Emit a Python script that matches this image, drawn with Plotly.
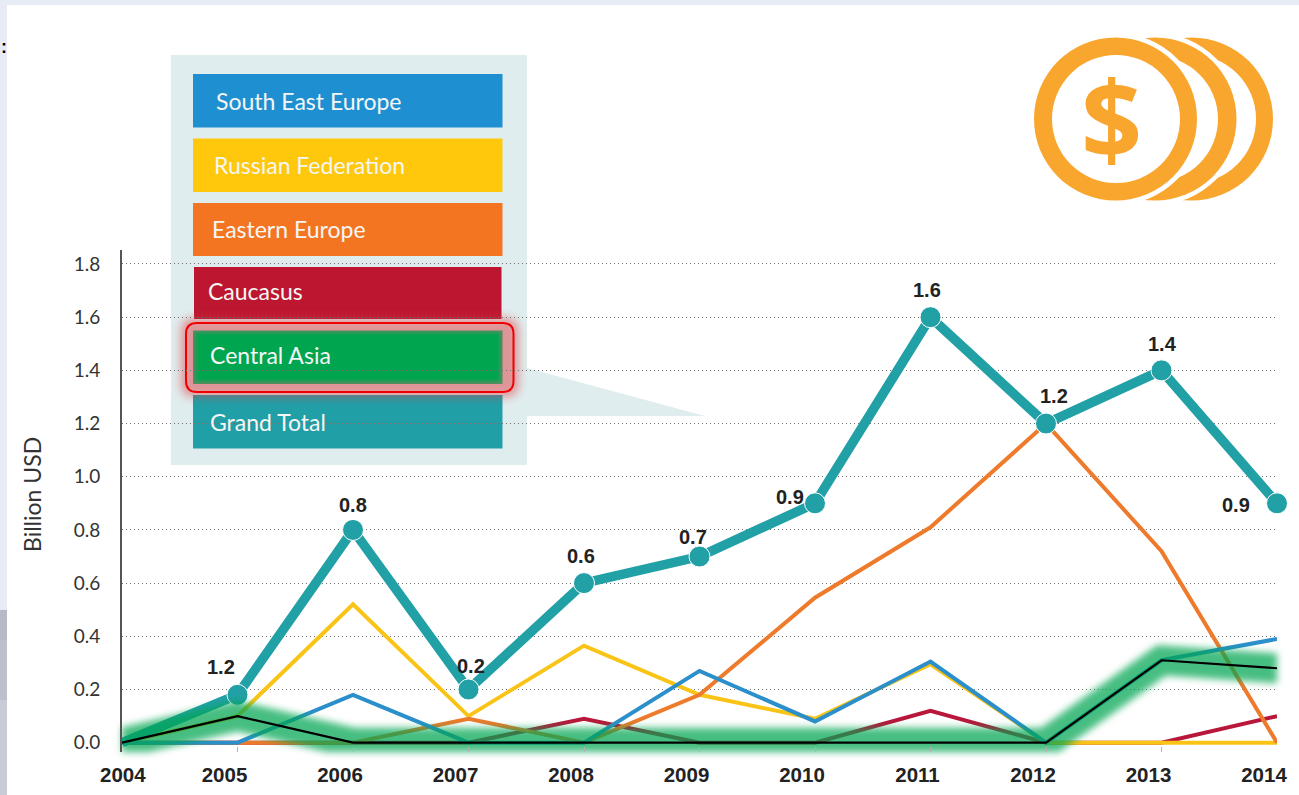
import plotly.graph_objects as go

W, H = 1299, 795
PLOT_L, PLOT_R, PLOT_T, PLOT_B = 122, 1277, 250, 752

years = [2004, 2005, 2006, 2007, 2008, 2009, 2010, 2011, 2012, 2013, 2014]
south_east_europe = [0, 0, 0.18, 0, 0, 0.27, 0.08, 0.305, 0, 0.31, 0.39]
russian_federation = [0, 0.1, 0.52, 0.1, 0.365, 0.18, 0.09, 0.295, 0, 0, 0]
eastern_europe = [0, 0, 0, 0.09, 0, 0.18, 0.545, 0.81, 1.2, 0.72, 0]
caucasus = [0, 0, 0, 0, 0.09, 0, 0, 0.12, 0, 0, 0.1]
central_asia = [0, 0.1, 0, 0, 0, 0, 0, 0, 0, 0.31, 0.28]
grand_total = [0, 0.18, 0.8, 0.2, 0.6, 0.7, 0.9, 1.6, 1.2, 1.4, 0.9]

# Printed figures above the total line, as they appear in the publication
total_labels = ["", "1.2", "0.8", "0.2", "0.6", "0.7", "0.9", "1.6", "1.2", "1.4", "0.9"]
y_ticks = [0, 0.2, 0.4, 0.6, 0.8, 1.0, 1.2, 1.4, 1.6, 1.8]
y_tick_labels = ["0.0", "0.2", "0.4", "0.6", "0.8", "1.0", "1.2", "1.4", "1.6", "1.8"]
legend_names = ["South East Europe", "Russian Federation", "Eastern Europe",
                "Caucasus", "Central Asia", "Grand Total"]

C_BLUE, C_YELLOW, C_ORANGE = "#2b8fcb", "#f9c416", "#ee7a2b"
C_RED, C_TEAL, C_COIN = "#b8163a", "#21a0a6", "#f9a62e"


def px(x):
    return (x - PLOT_L) / (PLOT_R - PLOT_L)


def py(y):
    return (PLOT_B - y) / (PLOT_B - PLOT_T)


def rect(x0, y0, x1, y1, fill):
    return dict(type="rect", xref="paper", yref="paper", x0=px(x0), x1=px(x1),
                y0=py(y1), y1=py(y0), fillcolor=fill, line=dict(width=0), layer="between")


def disc(cx, cy, r, fill):
    return dict(type="circle", xref="paper", yref="paper", x0=px(cx - r), x1=px(cx + r),
                y0=py(cy + r), y1=py(cy - r), fillcolor=fill, line=dict(width=0), layer="between")


def rounded(x0, y0, x1, y1, r, fill="rgba(0,0,0,0)", line=None):
    def p(x, y):
        return f"{px(x):.5f},{py(y):.5f}"
    path = (f"M{p(x0 + r, y0)} L{p(x1 - r, y0)} Q{p(x1, y0)} {p(x1, y0 + r)} "
            f"L{p(x1, y1 - r)} Q{p(x1, y1)} {p(x1 - r, y1)} "
            f"L{p(x0 + r, y1)} Q{p(x0, y1)} {p(x0, y1 - r)} "
            f"L{p(x0, y0 + r)} Q{p(x0, y0)} {p(x0 + r, y0)} Z")
    return dict(type="path", xref="paper", yref="paper", path=path, fillcolor=fill,
                line=line or dict(width=0), layer="between")


fig = go.Figure()

for name, vals, col, w in [("Caucasus", caucasus, C_RED, 4),
                           ("Russian Federation", russian_federation, C_YELLOW, 4),
                           ("Eastern Europe", eastern_europe, C_ORANGE, 4),
                           ("South East Europe", south_east_europe, C_BLUE, 4)]:
    fig.add_trace(go.Scatter(x=years, y=vals, mode="lines", name=name, cliponaxis=False,
                             line=dict(color=col, width=w)))

fig.add_trace(go.Scatter(x=years, y=grand_total, mode="lines+markers", name="Grand Total",
                         cliponaxis=False, line=dict(color=C_TEAL, width=9.5),
                         marker=dict(color=C_TEAL, size=[0] + [21] * 10, opacity=1)))

# Green halo under the highlighted series; the blur is applied after plotting
GLOW_TRACE = len(fig.data)
fig.add_trace(go.Scatter(x=years, y=central_asia, mode="lines", showlegend=False,
                         hoverinfo="skip", cliponaxis=False,
                         line=dict(color="rgba(0,165,80,0.72)", width=30)))
fig.add_trace(go.Scatter(x=years, y=central_asia, mode="lines", name="Central Asia",
                         cliponaxis=False, line=dict(color="#000000", width=2.2)))

shapes = [
    # Window edges around the white page
    rect(0, 0, W, 5, "#e6ebf5"),
    rect(0, 0, 7, 610, "#e6ebf5"),
    rect(0, 610, 7, 640, "#b6bac6"),
    rect(0, 640, 7, 700, "#bcc0cc"),
    rect(0, 700, 7, 795, "#c8ccd6"),
    # Panel and pointer behind the colour key
    rect(171, 55, 527, 465, "#e0edee"),
    dict(type="path", xref="paper", yref="paper", layer="between", fillcolor="#e0edee",
         line=dict(width=0),
         path=f"M{px(527)},{py(368)} L{px(705)},{py(416)} L{px(527)},{py(416)} Z"),
    rect(193, 74, 502.5, 127.5, "#1e90d2"),
    rect(193, 138.5, 502.5, 192, "#ffc80d"),
    rect(193, 203, 502.5, 256, "#f47521"),
    rect(194, 267, 501.5, 319, "#bc1631"),
    rect(193, 395, 502.5, 448.5, "#209fa7"),
]
# Pink glow around the highlighted key entry
PINK_SHAPE = len(shapes)
shapes.append(rounded(181, 318, 518.5, 397, 13, fill="rgba(222,60,65,0.5)"))
shapes.append(rect(193, 330.5, 502.5, 384, "#4f8f5e"))
GREEN_SHAPE = len(shapes)
shapes.append(rect(196, 333, 499.5, 381, "#00a550"))
shapes.append(rounded(186, 323, 513.5, 392, 11, line=dict(color="#f00000", width=2)))

# Stack of coins, back to front; each white disc cuts the gap around the next coin
for cx, r_in, gap_cx in [(1191.5, 64.5, 1155), (1155, 63, 1116)]:
    shapes += [disc(cx, 119, 81.5, C_COIN), disc(cx, 119, r_in, "#ffffff"),
               disc(gap_cx, 119, 86, "#ffffff")]
shapes += [disc(1115.5, 119, 81.5, C_COIN), disc(1116, 119, 64, "#ffffff")]

annotations = []


def page_text(x, y, text, size, color, family="Lato", anchor="left", angle=0, weight=None):
    font = dict(family=family, size=size, color=color)
    if weight:
        font["weight"] = weight
    annotations.append(dict(xref="paper", yref="paper", x=px(x), y=py(y), text=text, showarrow=False,
                            xanchor=anchor, yanchor="middle", textangle=angle, font=font))


for name, (lx, ly) in zip(legend_names, [(213.5, 101), (212, 165), (210, 229),
                                         (206, 291), (208, 355), (208, 422)]):
    page_text(lx, ly, name, 23, "#f4f6f4")

page_text(32, 495, "Billion USD", 23, "#333333", anchor="center", angle=-90)
page_text(1111, 117, "$", 107, C_COIN, family="Open Sans", anchor="center", weight=700)
page_text(-1, 47, "<b>:</b>", 18, "#000000", family="Liberation Sans")
page_text(123, 774, "<b>2004</b>", 20.5, "#222222", family="Liberation Sans", anchor="center")

# Offsets of each printed figure from its point on the total line
label_offsets = [(0, 0), (-17, 28), (0, 25), (2, 24), (-3, 27), (-7, 20), (-25, 6),
                 (-4, 27), (8, 28), (1, 26), (-41, -2)]
for yr, val, lab, (dx, dy) in zip(years, grand_total, total_labels, label_offsets):
    if lab:
        annotations.append(dict(x=yr, y=val, xref="x", yref="y", text=f"<b>{lab}</b>",
                                showarrow=False, xshift=dx, yshift=dy,
                                font=dict(family="Liberation Sans", size=20, color="#222222")))

fig.update_layout(
    width=W, height=H, autosize=False, showlegend=False,
    margin=dict(l=PLOT_L, r=W - PLOT_R, t=PLOT_T, b=H - PLOT_B, pad=0, autoexpand=False),
    paper_bgcolor="#ffffff", plot_bgcolor="rgba(0,0,0,0)",
    shapes=shapes, annotations=annotations,
    xaxis=dict(range=[2004, 2014], tickmode="array", tickvals=years[1:],
               ticktext=[f"<b>{y}</b>" for y in years[1:]], ticks="inside", ticklen=5, tickwidth=1,
               tickcolor="#b0b0b0", showgrid=False, zeroline=False, showline=False,
               ticklabelshift=-13, ticklabelstandoff=8, automargin=False,
               tickfont=dict(family="Liberation Sans", size=20.5, color="#222222")),
    yaxis=dict(range=[-0.035, 1.8526], tickmode="array", tickvals=y_ticks, ticktext=y_tick_labels,
               ticks="", showline=True, linecolor="#555555", linewidth=2, zeroline=False,
               showgrid=True, gridcolor="#707070", griddash="1px,3px", gridwidth=1,
               ticklabelstandoff=16, automargin=False,
               tickfont=dict(family="Lato", size=19, color="#333333")),
)

# Soft edges on the highlights; the SVG filter gets a wide region so the halo is not cut off
blur_script = f"""
var gd = document.getElementById('{{plot_id}}');
var glow = gd.querySelectorAll('.scatterlayer .trace')[{GLOW_TRACE}];
var svg = glow.ownerSVGElement, ns = 'http://www.w3.org/2000/svg';
var filt = document.createElementNS(ns, 'filter');
filt.setAttribute('id', 'halo-blur');
filt.setAttribute('filterUnits', 'userSpaceOnUse');
filt.setAttribute('x', '-200'); filt.setAttribute('y', '-200');
filt.setAttribute('width', '1800'); filt.setAttribute('height', '1300');
var fe = document.createElementNS(ns, 'feGaussianBlur');
fe.setAttribute('stdDeviation', '3.5');
filt.appendChild(fe);
var defs = document.createElementNS(ns, 'defs');
defs.appendChild(filt);
svg.appendChild(defs);
glow.querySelectorAll('path').forEach(function (p) {{ p.style.strokeLinecap = 'round'; }});
glow.setAttribute('filter', 'url(#halo-blur)');
var pink = gd.querySelector('.shapelayer path[data-index="{PINK_SHAPE}"]');
if (pink) pink.style.filter = 'blur(5px)';
var green = gd.querySelector('.shapelayer path[data-index="{GREEN_SHAPE}"]');
if (green) green.style.filter = 'blur(1.5px)';
"""

fig.write_html("out.html", config=dict(displayModeBar=False), post_script=blur_script)
